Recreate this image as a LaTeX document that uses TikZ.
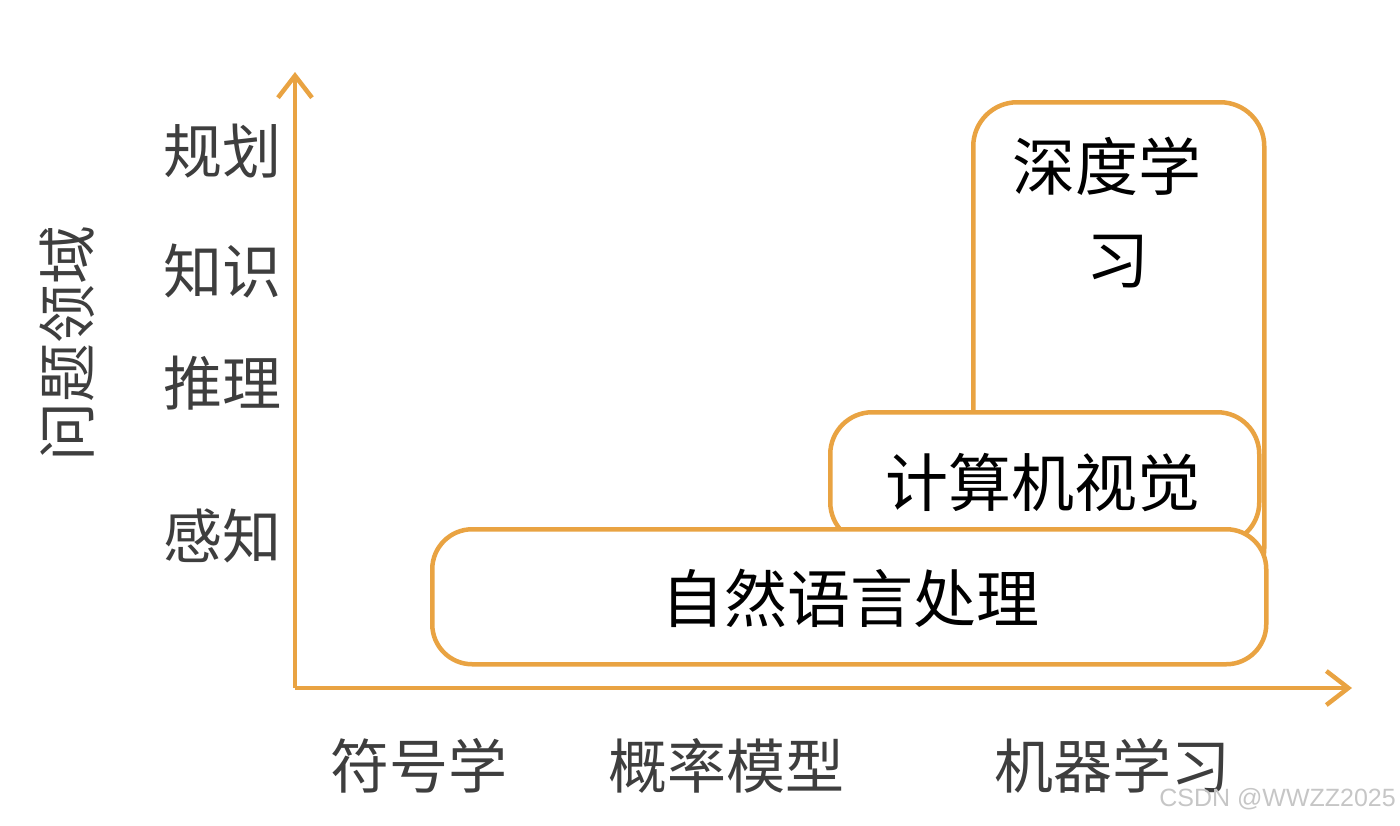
\documentclass[tikz,border=0pt]{standalone}
\usepackage{fontspec}
\setmainfont{Noto Sans CJK SC}
\newfontfamily\markfont{Liberation Sans}
\usepackage{xcolor}
\usepackage{tikz}
\usetikzlibrary{arrows.meta}

\definecolor{fieldorange}{RGB}{233,163,66}
\definecolor{labelgray}{RGB}{62,62,62}

\begin{document}
\begin{tikzpicture}[x=1pt, y=-1pt,
			axis/.style={draw=fieldorange, line width=4.5pt, -{Straight Barb[length=22pt, width=34pt, line width=4.5pt]}},
			field/.style={draw=fieldorange, line width=4.5pt, rectangle, rounded corners=44pt, fill=white, inner sep=0pt, anchor=north west},
			fieldtext/.style={font=\fontsize{63}{93}\selectfont, text=black, align=center},
			axislabel/.style={font=\fontsize{59}{70}\selectfont, text=labelgray}
			]
			\useasboundingbox (0,0) rectangle (1400,825);
			
			% Achsen
			\coordinate (origin) at (295,688);
			\coordinate (ytip)   at (295,72);
			\coordinate (xtip)   at (1352,688);
			\draw[axis] (origin) -- (ytip);
			\draw[axis] (origin) -- (xtip);
			
			% Felder (hinten nach vorne)
			\node[field, minimum width=291pt, minimum height=490pt] (deep)   at (971,100) {};
			\node[field, minimum width=429pt, minimum height=132pt, rounded corners=42pt] (vision) at (828,410) {};
			\node[field, minimum width=834pt, minimum height=135pt, rounded corners=40pt] (nlp)    at (430,527) {};
			
			\node[fieldtext] (deeplabel)   at (1107,213) {深度学\\\hspace*{22pt}习};
			\node[fieldtext] (visionlabel) at (1043,483) {计算机视觉};
			\node[fieldtext] (nlplabel)    at (850,598)  {自然语言处理};
			
			% Problembereiche
			\node[axislabel] (plan)     at (222,151) {规划};
			\node[axislabel] (know)     at (222,271) {知识};
			\node[axislabel] (reason)   at (222,383) {推理};
			\node[axislabel] (perceive) at (222,536) {感知};
			\node[axislabel, rotate=90] (domain) at (67,343) {问题领域};
			
			% Methoden
			\node[axislabel] (symbolic) at (419,766)  {符号学};
			\node[axislabel] (probmod)  at (726,766)  {概率模型};
			\node[axislabel] (ml)       at (1112,766) {机器学习};
			
			\node[font=\markfont\fontsize{25}{30}\selectfont, text=gray!45, anchor=east, inner sep=0pt] (mark) at (1396,799) {CSDN @WWZZ2025};
			
		\end{tikzpicture}
\end{document}
